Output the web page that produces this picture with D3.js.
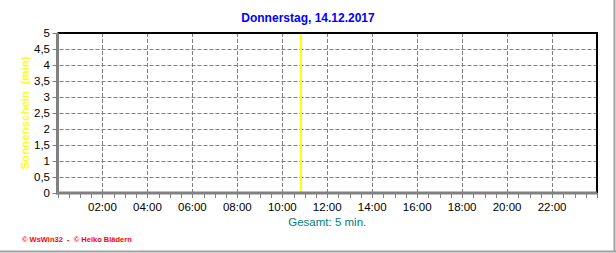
<!DOCTYPE html>
<html>
<head>
<meta charset="utf-8">
<script src="https://cdn.jsdelivr.net/npm/d3@7"></script>
<style>
  body { margin: 0; background: #fff; }
  svg { display: block; font-family: "Liberation Sans", Arial, sans-serif; }
</style>
</head>
<body>
<div id="chart"></div>
<script>
// Chart data
const title = "Donnerstag, 14.12.2017";
const yTicks = [0, 0.5, 1, 1.5, 2, 2.5, 3, 3.5, 4, 4.5, 5];
const xTickHours = [2, 4, 6, 8, 10, 12, 14, 16, 18, 20, 22];
const sunTimes = ["10:50"];     // start of each sunshine interval
const sunMinutes = [5];         // minutes of sunshine in that interval
const totalLabel = "Gesamt: 5 min.";

const width = 616, height = 253;
const plotLeft = 57.5, plotRight = 597, plotTop = 33, plotBottom = 193;

const svg = d3.select("#chart").append("svg")
    .attr("width", width)
    .attr("height", height);

const x = d3.scaleLinear().domain([0, 24]).range([plotLeft, plotRight]);
const y = d3.scaleLinear().domain([0, 5]).range([plotBottom, plotTop]);

const toHours = s => { const p = s.split(":"); return +p[0] + p[1] / 60; };

// outer frame (right + bottom)
svg.append("line").attr("x1", 614.5).attr("x2", 614.5).attr("y1", 0).attr("y2", 252)
    .attr("stroke", "#a0a0a0").attr("stroke-width", 2);
svg.append("line").attr("x1", 0).attr("x2", 616).attr("y1", 251.5).attr("y2", 251.5)
    .attr("stroke", "#a0a0a0").attr("stroke-width", 2);

// grid
svg.append("g").selectAll("line").data(yTicks.filter(d => d > 0 && d < 5)).enter().append("line")
    .attr("x1", plotLeft + 2).attr("x2", plotRight)
    .attr("y1", d => Math.round(y(d)) + 0.5).attr("y2", d => Math.round(y(d)) + 0.5)
    .attr("stroke", "#808080").attr("stroke-dasharray", "4,2");
svg.append("g").selectAll("line").data(xTickHours).enter().append("line")
    .attr("x1", d => Math.round(x(d)) + 0.5).attr("x2", d => Math.round(x(d)) + 0.5)
    .attr("y1", plotTop).attr("y2", plotBottom)
    .attr("stroke", "#808080").attr("stroke-dasharray", "4,2");

// sunshine bars
svg.append("g").selectAll("line").data(sunTimes).enter().append("line")
    .attr("x1", d => x(toHours(d))).attr("x2", d => x(toHours(d)))
    .attr("y1", y(0)).attr("y2", (d, i) => y(sunMinutes[i]))
    .attr("stroke", "#ffff00").attr("stroke-width", 2);

// top and right border
svg.append("line").attr("x1", plotLeft).attr("x2", plotRight + 1).attr("y1", plotTop).attr("y2", plotTop)
    .attr("stroke", "#000").attr("stroke-width", 2);
svg.append("line").attr("x1", plotRight).attr("x2", plotRight).attr("y1", plotTop).attr("y2", plotBottom)
    .attr("stroke", "#000").attr("stroke-width", 2);

// x minor ticks every 30 min
svg.append("g").selectAll("line").data(d3.range(0, 24.01, 0.5)).enter().append("line")
    .attr("x1", d => Math.round(x(d)) + 0.5).attr("x2", d => Math.round(x(d)) + 0.5)
    .attr("y1", plotBottom).attr("y2", plotBottom + 5)
    .attr("stroke", "#808080");

// y ticks
svg.append("g").selectAll("line").data(yTicks).enter().append("line")
    .attr("x1", plotLeft - 5).attr("x2", plotLeft)
    .attr("y1", d => Math.round(y(d)) + 0.5).attr("y2", d => Math.round(y(d)) + 0.5)
    .attr("stroke", "#808080");

// axes (gray, thick)
svg.append("line").attr("x1", plotLeft).attr("x2", plotLeft).attr("y1", plotTop).attr("y2", plotBottom + 1.5)
    .attr("stroke", "#808080").attr("stroke-width", 3);
svg.append("line").attr("x1", plotLeft - 1.5).attr("x2", plotRight).attr("y1", plotBottom).attr("y2", plotBottom)
    .attr("stroke", "#808080").attr("stroke-width", 3);

// y labels
svg.append("g").selectAll("text").data(yTicks).enter().append("text")
    .attr("x", plotLeft - 7.5).attr("y", d => y(d)).attr("dy", "0.36em")
    .attr("text-anchor", "end").attr("font-size", 11.5).attr("fill", "#000")
    .text(d => String(d).replace(".", ","));

// x labels
svg.append("g").selectAll("text").data(xTickHours).enter().append("text")
    .attr("x", d => x(d)).attr("y", 211)
    .attr("text-anchor", "middle").attr("font-size", 11.5).attr("fill", "#000")
    .text(d => (d < 10 ? "0" : "") + d + ":00");

// title
svg.append("text").attr("x", 308).attr("y", 22)
    .attr("text-anchor", "middle").attr("font-size", 12).attr("font-weight", "bold")
    .attr("fill", "#0000ff").text(title);

// total
svg.append("text").attr("x", (plotLeft + plotRight) / 2).attr("y", 226)
    .attr("text-anchor", "middle").attr("font-size", 11.5)
    .attr("fill", "#008080").text(totalLabel);

// y axis title
svg.append("text").attr("transform", "translate(29,113) rotate(-90)")
    .attr("text-anchor", "middle").attr("font-size", 11.5).attr("font-weight", "bold")
    .attr("fill", "#ffff00").attr("xml:space", "preserve").text("Sonnenschein  (min)");

// footer
svg.append("text").attr("x", 22).attr("y", 241.5)
    .attr("font-size", 7.5).attr("font-weight", "bold")
    .attr("fill", "#ff0000").attr("xml:space", "preserve").text("© WsWin32  -  © Heiko Blädern");
</script>
</body>
</html>
